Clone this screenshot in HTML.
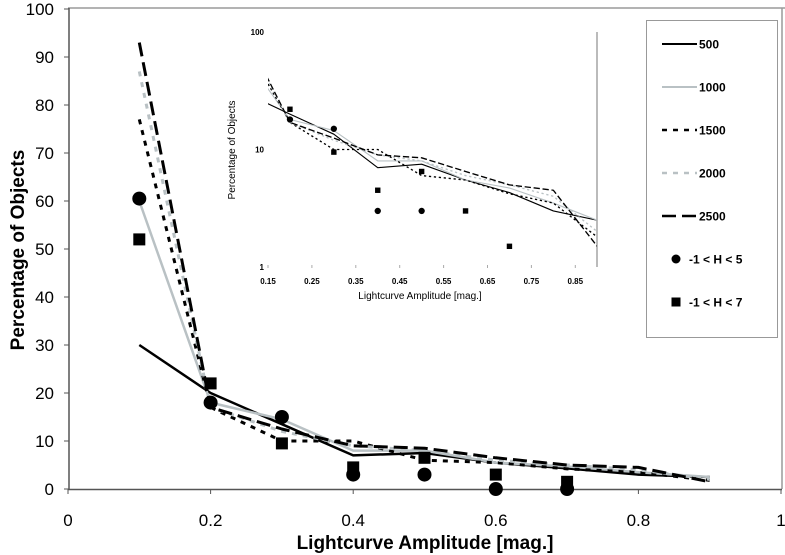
<!DOCTYPE html>
<html><head><meta charset="utf-8"><style>
html,body{margin:0;padding:0;background:#fff;}
svg{display:block;font-family:"Liberation Sans",Arial,sans-serif;}
</style></head><body>
<svg id="chart" width="785" height="555" viewBox="0 0 785 555">
<defs>
<clipPath id="insetClip"><rect x="268" y="32" width="329" height="235"/></clipPath>
</defs>
<g id="main"></g>
<g id="inset"></g>
<g id="legend"></g>
</svg>
<script>
const xs = [0.1,0.2,0.3,0.4,0.5,0.6,0.7,0.8,0.9];
const s500 = [30,20,13.5,7,7.5,5.5,4.3,3,2.5];
const s1000 = [60,18,14.5,8,8,5.5,4.7,3.5,2.5];
const s1500 = [77,17,10,10,6,5.5,4.2,3.5,1.8];
const s2000 = [87,17,12,9,8,6,5,4,2];
const s2500 = [93,17,12.5,9,8.5,6.5,5,4.5,1.5];
const circX = [0.1,0.2,0.3,0.4,0.5,0.6,0.7];
const circY = [60.5,18,15,3,3,0,0];
const sqX = [0.1,0.2,0.3,0.4,0.5,0.6,0.7];
const sqY = [52,22,9.5,4.5,6.5,3,1.5];
const xTicks = [0,0.2,0.4,0.6,0.8,1];
const yTicks = [0,10,20,30,40,50,60,70,80,90,100];
const insetXTicks = [0.15,0.25,0.35,0.45,0.55,0.65,0.75,0.85];
const insetYTicks = [1,10,100];
const seriesNames = ['500','1000','1500','2000','2500'];

const NS='http://www.w3.org/2000/svg';
function mk(tag, attrs, parent, text){
  const e=document.createElementNS(NS,tag);
  for(const k in attrs) e.setAttribute(k,attrs[k]);
  if(text!==undefined) e.textContent=text;
  parent.appendChild(e); return e;
}
const styles=[
  {stroke:'#000',w:2.5,dash:''},
  {stroke:'#b9c1c4',w:2.5,dash:''},
  {stroke:'#000',w:3,dash:'5,6'},
  {stroke:'#b9c1c4',w:3,dash:'5,6'},
  {stroke:'#000',w:3,dash:'14,6'}
];
const allSeries=[s500,s1000,s1500,s2000,s2500];

// main axes
const X=v=>68+v*713;
const Y=v=>489-v*4.8;
const main=document.getElementById('main');
let el;
el=mk('line',{x1:68,y1:8,x2:785,y2:8,stroke:'#9a9a9a','stroke-width':1.5},main);


el=mk('line',{x1:782,y1:8,x2:782,y2:489,stroke:'#9a9a9a','stroke-width':1.5},main);


el=mk('line',{x1:69,y1:8,x2:69,y2:490,stroke:'#555','stroke-width':1.5},main);


el=mk('line',{x1:68,y1:489.5,x2:782,y2:489.5,stroke:'#555','stroke-width':1.5},main);


yTicks.forEach(t=>{
  el=mk('line',{x1:64,y1:Y(t),x2:69,y2:Y(t),stroke:'#555'},main);
  
  
  el=mk('text',{x:54,y:Y(t)+6,'text-anchor':'end','font-size':17},main,String(t));
  
  
});
xTicks.forEach(t=>{
  el=mk('line',{x1:X(t),y1:489,x2:X(t),y2:494,stroke:'#555'},main);
  
  
  el=mk('text',{x:X(t),y:526,'text-anchor':'middle','font-size':17},main,String(t));
  
  
});
el=mk('text',{x:425,y:549,'text-anchor':'middle','font-size':19,'font-weight':'bold'},main,'Lightcurve Amplitude [mag.]');


el=mk('text',{x:0,y:0,'text-anchor':'middle','font-size':19,'font-weight':'bold',transform:'translate(24,250) rotate(-90)'},main,'Percentage of Objects');



function drawSeries(g, fx, fy, filt, scale){
  allSeries.forEach((s,i)=>{
    const pts=xs.map((x,j)=>fx(x)+','+fy(s[j])).join(' ');
    const st=styles[i];
    el=mk('polyline',{points:pts,fill:'none',stroke:st.stroke,'stroke-width':st.w*scale,'stroke-dasharray':st.dash?st.dash.split(',').map(v=>v*scale).join(','):'', 'stroke-linejoin':'round'},g);
    
    
  });
  circX.forEach((x,j)=>{
    if(!filt(circY[j])) return;
    el=mk('circle',{cx:fx(x),cy:fy(circY[j]),r:7*scale,fill:'#000'},g);
    
    
  });
  sqX.forEach((x,j)=>{
    if(!filt(sqY[j])) return;
    const h=12*scale;
    el=mk('rect',{x:fx(x)-h/2,y:fy(sqY[j])-h/2,width:h,height:h,fill:'#000'},g);
    
    
  });
}
drawSeries(main,X,Y,()=>true,1);

// inset
const inset=document.getElementById('inset');
const IX=v=>268+(v-0.15)*439;
const IY=v=>267-Math.log10(v)*117.5;
el=mk('line',{x1:597,y1:32,x2:597,y2:267,stroke:'#777','stroke-width':1},inset);


insetYTicks.forEach(t=>{
  el=mk('text',{x:264,y:IY(t)+3,'text-anchor':'end','font-size':8,'font-weight':'bold'},inset,String(t));
  
  
});
insetXTicks.forEach(t=>{
  el=mk('line',{x1:IX(t),y1:265,x2:IX(t),y2:268,stroke:'#aaa'},inset);
  
  
  el=mk('text',{x:IX(t),y:284,'text-anchor':'middle','font-size':8,'font-weight':'bold'},inset,t.toFixed(2));
  
  
});
el=mk('text',{x:420,y:299,'text-anchor':'middle','font-size':10},inset,'Lightcurve Amplitude [mag.]');


el=mk('text',{x:0,y:0,'text-anchor':'middle','font-size':10,transform:'translate(235,150) rotate(-90)'},inset,'Percentage of Objects');


const ig=mk('g',{'clip-path':'url(#insetClip)'},inset);


drawSeries(ig,IX,IY,v=>v>0,0.45);

// legend
const lg=document.getElementById('legend');
el=mk('rect',{x:646.5,y:20.5,width:131,height:317,fill:'#fff',stroke:'#999'},lg);


const labels=['500','1000','1500','2000','2500','-1 < H < 5','-1 < H < 7'];
labels.forEach((lab,i)=>{
  const y=44+i*43;
  if(i<5){
    const st=styles[i];
    el=mk('line',{x1:662,y1:y,x2:697,y2:y,stroke:st.stroke,'stroke-width':st.w-0.5,'stroke-dasharray':st.dash},lg);
    
    
  } else if(i==5){
    el=mk('circle',{cx:676,cy:y,r:4.5,fill:'#000'},lg);
    
    
  } else {
    el=mk('rect',{x:671.5,y:y-4.5,width:9,height:9,fill:'#000'},lg);
    
    
  }
  el=mk('text',{x:i<5?699:689,y:y+4.5,'font-size':12,'font-weight':'bold'},lg,lab);
  
  
});
</script>
</body></html>
